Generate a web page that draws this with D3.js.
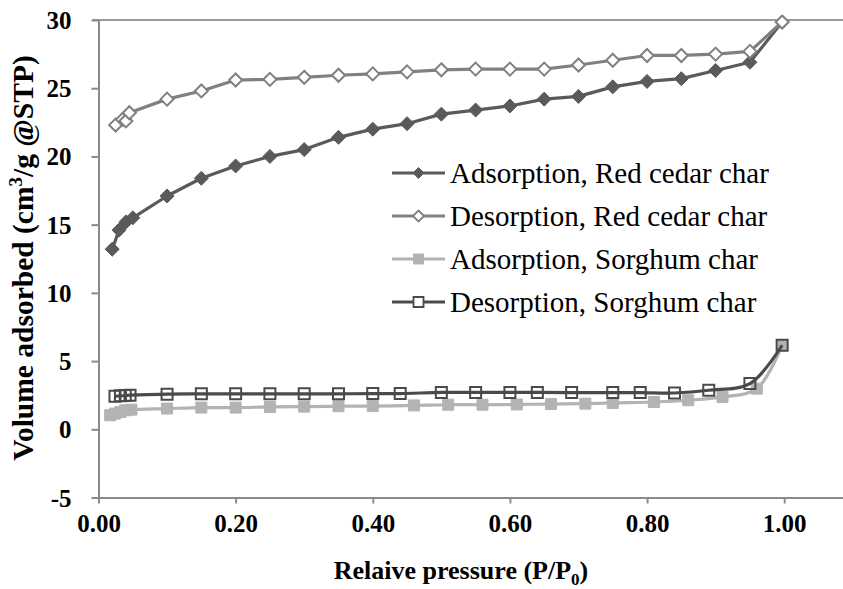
<!DOCTYPE html>
<html>
<head>
<meta charset="utf-8">
<script src="https://cdn.jsdelivr.net/npm/d3@7"></script>
</head>
<body style="margin:0">
<svg id="chart" width="843" height="589" font-family="Liberation Serif, Times New Roman, serif"></svg>
<script>
// Relative pressure (P/P0) and adsorbed volume (cm3/g @STP) for each isotherm branch
const adsRedCedarX = [0.02, 0.03, 0.04, 0.05, 0.10, 0.15, 0.20, 0.25, 0.30, 0.35, 0.40, 0.45, 0.50, 0.55, 0.60, 0.65, 0.70, 0.75, 0.80, 0.85, 0.90, 0.95, 0.997];
const adsRedCedarY = [13.2, 14.6, 15.2, 15.5, 17.1, 18.4, 19.3, 20.0, 20.5, 21.4, 22.0, 22.4, 23.1, 23.4, 23.7, 24.2, 24.4, 25.1, 25.5, 25.7, 26.3, 26.9, 29.85];

const desRedCedarX = [0.025, 0.035, 0.04, 0.045, 0.10, 0.15, 0.20, 0.25, 0.30, 0.35, 0.40, 0.45, 0.50, 0.55, 0.60, 0.65, 0.70, 0.75, 0.80, 0.85, 0.90, 0.95, 0.997];
const desRedCedarY = [22.3, 22.7, 22.6, 23.2, 24.2, 24.8, 25.6, 25.65, 25.8, 25.95, 26.05, 26.2, 26.35, 26.4, 26.4, 26.4, 26.7, 27.05, 27.4, 27.4, 27.5, 27.7, 29.85];

const adsSorghumX = [0.017, 0.024, 0.032, 0.039, 0.048, 0.10, 0.15, 0.20, 0.25, 0.30, 0.35, 0.40, 0.46, 0.51, 0.56, 0.61, 0.66, 0.71, 0.75, 0.81, 0.86, 0.91, 0.96, 0.997];
const adsSorghumY = [1.03, 1.15, 1.27, 1.39, 1.44, 1.52, 1.59, 1.59, 1.64, 1.66, 1.69, 1.70, 1.75, 1.80, 1.80, 1.82, 1.85, 1.88, 1.93, 2.00, 2.13, 2.37, 2.98, 6.16];

const desSorghumX = [0.024, 0.032, 0.039, 0.046, 0.10, 0.15, 0.20, 0.25, 0.30, 0.35, 0.40, 0.44, 0.50, 0.55, 0.60, 0.64, 0.69, 0.75, 0.79, 0.84, 0.89, 0.95, 0.997];
const desSorghumY = [2.42, 2.45, 2.47, 2.50, 2.57, 2.60, 2.60, 2.60, 2.60, 2.60, 2.62, 2.62, 2.70, 2.70, 2.70, 2.70, 2.69, 2.69, 2.69, 2.66, 2.86, 3.35, 6.16];

const seriesNames = ["Adsorption, Red cedar char", "Desorption, Red cedar char", "Adsorption, Sorghum char", "Desorption, Sorghum char"];
const xTickValues = [0, 0.2, 0.4, 0.6, 0.8, 1.0];
const yTickValues = [-5, 0, 5, 10, 15, 20, 25, 30];

const zip = (xs, ys) => xs.map((x, i) => ({ x, y: ys[i] }));

// Styling per series
const series = [
  { name: seriesNames[0], data: zip(adsRedCedarX, adsRedCedarY), line: "#5a5a5a", marker: "diamond", fill: "#5a5a5a", stroke: "#5a5a5a", size: 7, smooth: false },
  { name: seriesNames[1], data: zip(desRedCedarX, desRedCedarY), line: "#808080", marker: "diamond", fill: "#fff", stroke: "#808080", size: 6.5, smooth: false },
  { name: seriesNames[2], data: zip(adsSorghumX, adsSorghumY), line: "#b3b3b3", marker: "square", fill: "#b3b3b3", stroke: "#b3b3b3", size: 5.5, smooth: true },
  { name: seriesNames[3], data: zip(desSorghumX, desSorghumY), line: "#4a4a4a", marker: "square", fill: "none", stroke: "#4a4a4a", size: 5.5, smooth: true }
];

const svg = d3.select("#chart");
const plotLeft = 98.5, plotTop = 20, plotBottom = 497.5;
const serif = "'Liberation Serif', 'Times New Roman', serif";

const x = d3.scaleLinear().domain([0, 1.1]).range([plotLeft, plotLeft + 1.1 * 685.7]);
const y = d3.scaleLinear().domain([-5, 30]).range([plotBottom, plotTop]);

const axisColor = "#8a8a8a";

// Top reference line at the upper limit of the value axis
svg.append("line")
  .attr("x1", plotLeft - 6).attr("x2", 843)
  .attr("y1", y(30)).attr("y2", y(30))
  .attr("stroke", "#9a9a9a").attr("stroke-width", 2);

// X axis
const xAxis = svg.append("g")
  .attr("transform", `translate(0,${plotBottom})`)
  .call(d3.axisBottom(x).tickValues(xTickValues).tickFormat(d3.format(".2f")).tickSize(6).tickSizeOuter(0));
xAxis.attr("font-family", null).attr("font-size", null);
xAxis.select(".domain").attr("stroke", axisColor).attr("stroke-width", 2);
xAxis.selectAll(".tick line").attr("stroke", axisColor).attr("stroke-width", 2);
xAxis.selectAll(".tick text")
  .style("font-family", serif)
  .attr("fill", "#000").attr("font-size", 25).attr("font-weight", "bold")
  .attr("y", 17).attr("dy", "0.71em");

// Y axis (plain hyphen for negative values)
const yAxis = svg.append("g")
  .attr("transform", `translate(${plotLeft},0)`)
  .call(d3.axisLeft(y).tickValues(yTickValues).tickFormat(d => String(d)).tickSize(7).tickSizeOuter(0));
yAxis.attr("font-family", null).attr("font-size", null);
yAxis.select(".domain").attr("stroke", axisColor).attr("stroke-width", 2);
yAxis.selectAll(".tick line").attr("stroke", axisColor).attr("stroke-width", 2);
yAxis.selectAll(".tick text")
  .style("font-family", serif)
  .attr("fill", "#000").attr("font-size", 25).attr("font-weight", "bold")
  .attr("x", -27).attr("dy", "0.34em");

// Axis titles
const xTitle = svg.append("text")
  .style("font-family", serif)
  .attr("x", 461).attr("y", 579)
  .attr("text-anchor", "middle").attr("font-size", 26).attr("font-weight", "bold");
xTitle.append("tspan").text("Relaive pressure (P/P");
xTitle.append("tspan").attr("font-size", 17).attr("dy", 6).text("0");
xTitle.append("tspan").attr("dy", -6).text(")");

const yTitle = svg.append("text")
  .style("font-family", serif)
  .attr("transform", "translate(33,258) rotate(-90)")
  .attr("text-anchor", "middle").attr("font-size", 29.5).attr("font-weight", "bold");
yTitle.append("tspan").text("Volume adsorbed (cm");
yTitle.append("tspan").attr("font-size", 19).attr("dy", -11).text("3");
yTitle.append("tspan").attr("dy", 11).text("/g @STP)");

// Marker shapes
function markerPath(type, r) {
  if (type === "diamond") return `M0,${-r}L${r},0L0,${r}L${-r},0Z`;
  return `M${-r},${-r}H${r}V${r}H${-r}Z`;
}

// Series lines and markers
series.forEach(s => {
  const line = d3.line()
    .x(d => x(d.x)).y(d => y(d.y))
    .curve(s.smooth ? d3.curveCatmullRom.alpha(0.5) : d3.curveLinear);
  const g = svg.append("g");
  g.append("path")
    .datum(s.data)
    .attr("d", line)
    .attr("fill", "none")
    .attr("stroke", s.line)
    .attr("stroke-width", 3.2)
    .attr("stroke-linejoin", "round");
  g.selectAll("path.mk")
    .data(s.data)
    .join("path")
    .attr("class", "mk")
    .attr("transform", d => `translate(${x(d.x)},${y(d.y)})`)
    .attr("d", markerPath(s.marker, s.size))
    .attr("fill", s.fill)
    .attr("stroke", s.stroke)
    .attr("stroke-width", s.fill === s.stroke ? 1 : 2);
});

// Legend
const legend = svg.append("g");
const legendRows = [173, 216, 259, 302];
series.forEach((s, i) => {
  const row = legend.append("g").attr("transform", `translate(0,${legendRows[i]})`);
  row.append("line").attr("x1", 392).attr("x2", 445).attr("y1", 0).attr("y2", 0)
    .attr("stroke", s.line).attr("stroke-width", 3.2);
  row.append("path")
    .attr("transform", "translate(418.5,0)")
    .attr("d", markerPath(s.marker, s.marker === "diamond" ? 5.5 : 5))
    .attr("fill", s.fill === "none" ? "#fff" : s.fill)
    .attr("stroke", s.stroke)
    .attr("stroke-width", s.fill === s.stroke ? 1 : 1.8);
  row.append("text")
    .style("font-family", serif)
    .attr("x", 450).attr("y", 0).attr("dy", "0.33em")
    .attr("font-size", 29)
    .attr("fill", "#000")
    .text(s.name);
});
</script>
</body>
</html>
